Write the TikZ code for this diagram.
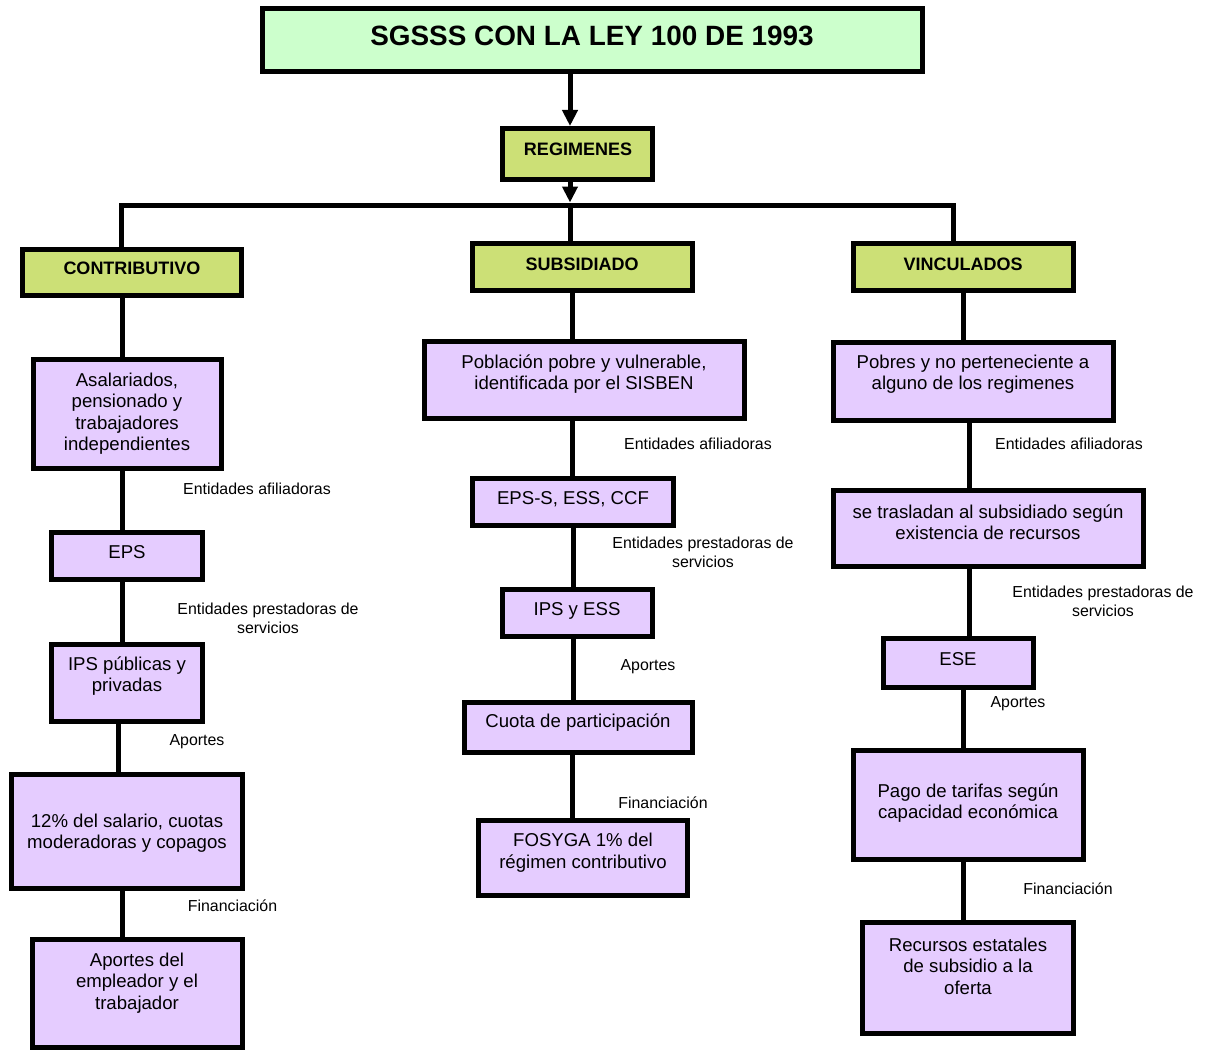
\documentclass[tikz,border=0pt]{standalone}
\usepackage{fontspec}
\setmainfont{Liberation Sans}
\usetikzlibrary{arrows.meta}
\definecolor{titlegreen}{RGB}{204,255,204}
\definecolor{headgreen}{RGB}{204,224,118}
\definecolor{lilac}{RGB}{229,204,255}
\begin{document}
\begin{tikzpicture}[x=1pt,y=-1pt,
  bx/.style={draw=black,line width=5pt,inner sep=0pt,rectangle},
  titlebox/.style={bx,fill=titlegreen},
  headbox/.style={bx,fill=headgreen},
  pbox/.style={bx,fill=lilac},
  txt/.style={align=center,inner sep=0pt,font=\fontsize{18.6}{21.5}\selectfont},
  htxt/.style={align=center,inner sep=0pt,font=\fontsize{18}{21}\selectfont\bfseries},
  lbl/.style={align=center,inner sep=0pt,font=\fontsize{15.9}{19}\selectfont},
  conn/.style={line width=5pt},
  arr/.style={line width=5pt,-{Triangle[length=16pt,width=15pt]}}]
\useasboundingbox (0,0) rectangle (1206,1051);
% boxes
\node[titlebox,minimum width=660,minimum height=63] (title) at (592.5,40) {};
\node[headbox,minimum width=150,minimum height=51] (reg) at (577.5,154) {};
\node[headbox,minimum width=219,minimum height=46] (contrib) at (132,272.5) {};
\node[headbox,minimum width=220,minimum height=47] (subs) at (582.5,267) {};
\node[headbox,minimum width=220,minimum height=47] (vinc) at (963.5,267) {};
\node[pbox,minimum width=188,minimum height=109] (asal) at (127.5,414) {};
\node[pbox,minimum width=151,minimum height=47] (eps) at (127,556) {};
\node[pbox,minimum width=151,minimum height=77] (ips) at (127,683) {};
\node[pbox,minimum width=231,minimum height=114] (doce) at (127,831.5) {};
\node[pbox,minimum width=210,minimum height=108] (aport) at (137.5,993.5) {};
\node[pbox,minimum width=320,minimum height=77] (pobl) at (584.5,380) {};
\node[pbox,minimum width=201,minimum height=47] (epss) at (573,502) {};
\node[pbox,minimum width=150,minimum height=47] (ipsess) at (577.5,613) {};
\node[pbox,minimum width=228,minimum height=50] (cuota) at (578.5,727.5) {};
\node[pbox,minimum width=209,minimum height=75] (fosyga) at (583,858) {};
\node[pbox,minimum width=280,minimum height=78] (pobres) at (973.5,381.5) {};
\node[pbox,minimum width=310,minimum height=76] (trasl) at (988.5,528.5) {};
\node[pbox,minimum width=150,minimum height=49] (ese) at (958.5,663) {};
\node[pbox,minimum width=230,minimum height=109] (pago) at (968.5,805) {};
\node[pbox,minimum width=211,minimum height=111] (recur) at (968,978) {};
% box texts
\node[htxt,font=\fontsize{27.9}{32}\selectfont\bfseries] (ttitle) at (592,36) {SGSSS CON LA LEY 100 DE 1993};
\node[htxt] (treg) at (578,149) {REGIMENES};
\node[htxt] (tcontrib) at (132,268) {CONTRIBUTIVO};
\node[htxt] (tsubs) at (582,264) {SUBSIDIADO};
\node[htxt] (tvinc) at (963,264) {VINCULADOS};
\node[txt] (tasal) at (127,413.5) {Asalariados,\\pensionado y\\trabajadores\\independientes};
\node[txt] (teps) at (127,552) {EPS};
\node[txt] (tips) at (127,676) {IPS públicas y\\privadas};
\node[txt] (tdoce) at (127,833) {12\% del salario, cuotas\\moderadoras y copagos};
\node[txt] (taport) at (137,983) {Aportes del\\empleador y el\\trabajador};
\node[txt] (tpobl) at (584,374) {Población pobre y vulnerable,\\identificada por el SISBEN};
\node[txt] (tepss) at (573,499) {EPS-S, ESS, CCF};
\node[txt] (tipsess) at (577,610.5) {IPS y ESS};
\node[txt] (tcuota) at (578,722.5) {Cuota de participación};
\node[txt] (tfosyga) at (583,852.5) {FOSYGA 1\% del\\régimen contributivo};
\node[txt] (tpobres) at (973,374) {Pobres y no perteneciente a\\alguno de los regimenes};
\node[txt] (ttrasl) at (988,522) {se trasladan al subsidiado según\\existencia de recursos};
\node[txt] (tese) at (958,659) {ESE};
\node[txt] (tpago) at (968,803) {Pago de tarifas según\\capacidad económica};
\node[txt] (trecur) at (968,966) {Recursos estatales\\de subsidio a la\\oferta};
% top arrows and bus
\coordinate (busL) at (119,205);
\coordinate (busR) at (955.5,205);
\coordinate (busM) at (570,205);
\coordinate (busTip) at (570,202.5);
\coordinate (busLc) at (121,205);
\coordinate (busRc) at (953,205);
\draw[arr] ([xshift=-22.5]title.south) -- ([xshift=-7.5]reg.north);
\draw[arr] ([xshift=-7.5]reg.south) -- (busTip);
\draw[conn] (busL) -- (busR);
\draw[conn] (busLc) -- ([xshift=-11]contrib.north);
\draw[conn] (busM) -- ([xshift=-12.5]subs.north);
\draw[conn] (busRc) -- ([xshift=-10.5]vinc.north);
% left column
\draw[conn] ([xshift=-10]contrib.south) -- ([xshift=-5.5]asal.north);
\draw[conn] ([xshift=-5.5]asal.south) -- ([xshift=-5]eps.north);
\draw[conn] ([xshift=-5]eps.south) -- ([xshift=-5]ips.north);
\draw[conn] ([xshift=-9]ips.south) -- ([xshift=-9]doce.north);
\draw[conn] ([xshift=-5]doce.south) -- ([xshift=-15.5]aport.north);
% middle column
\draw[conn] ([xshift=-10.5]subs.south) -- ([xshift=-12.5]pobl.north);
\draw[conn] ([xshift=-12.5]pobl.south) -- ([xshift=-1]epss.north);
\draw[conn] (epss.south) -- ([xshift=-4.5]ipsess.north);
\draw[conn] ([xshift=-4.5]ipsess.south) -- ([xshift=-5.5]cuota.north);
\draw[conn] ([xshift=-6.5]cuota.south) -- ([xshift=-11]fosyga.north);
% right column
\draw[conn] ([xshift=-0.5]vinc.south) -- ([xshift=-10.5]pobres.north);
\draw[conn] ([xshift=-4.5]pobres.south) -- ([xshift=-19.5]trasl.north);
\draw[conn] ([xshift=-19.5]trasl.south) -- ([xshift=10.5]ese.north);
\draw[conn] ([xshift=4.5]ese.south) -- ([xshift=-5.5]pago.north);
\draw[conn] ([xshift=-5.5]pago.south) -- ([xshift=-5]recur.north);
% labels
\node[lbl] (l1) at (257,489) {Entidades afiliadoras};
\node[lbl] (l2) at (268,618.5) {Entidades prestadoras de\\servicios};
\node[lbl] (l3) at (197,742) {Aportes};
\node[lbl] (l4) at (232.5,906) {Financiación};
\node[lbl] (m1) at (698,444) {Entidades afiliadoras};
\node[lbl] (m2) at (703,552) {Entidades prestadoras de\\servicios};
\node[lbl] (m3) at (648,667) {Aportes};
\node[lbl] (m4) at (663,803) {Financiación};
\node[lbl] (r1) at (1069,444) {Entidades afiliadoras};
\node[lbl] (r2) at (1103,601.5) {Entidades prestadoras de\\servicios};
\node[lbl] (r3) at (1018,704) {Aportes};
\node[lbl] (r4) at (1068,889) {Financiación};
\end{tikzpicture}
\end{document}
